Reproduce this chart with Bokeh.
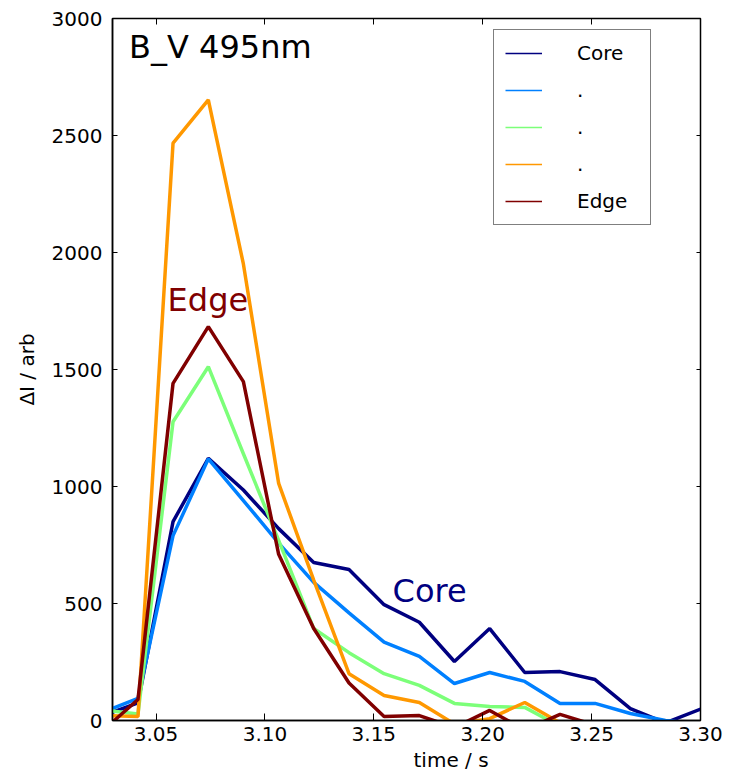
from bokeh.plotting import figure
from bokeh.models import (Range1d, LinearAxis, FixedTicker, NumeralTickFormatter,
                          Label, Legend, LegendItem, Title)
from bokeh.embed import file_html
from bokeh.resources import INLINE

# ---- data ----
times = [3.0255, 3.0417, 3.0578, 3.0740, 3.0901, 3.1063, 3.1224, 3.1386, 3.1547,
         3.1709, 3.1870, 3.2032, 3.2193, 3.2355, 3.2516, 3.2678, 3.2839, 3.3001]
core = [20, 75, 850, 1120, 985, 820, 675, 645, 495, 420, 252, 393, 205, 209, 175, 51, -10, 49]
mid1 = [35, 95, 790, 1118, 940, 758, 590, 460, 335, 274, 158, 205, 167, 73, 73, 30, 0, -15]
mid2 = [45, 28, 1277, 1512, 1140, 770, 393, 290, 200, 150, 73, 60, 56, -25, -40, -30, -50, -40]
mid3 = [22, 17, 2467, 2652, 1951, 1013, 600, 200, 107, 77, -15, 8, 77, -10, -40, -30, -50, -40]
edge = [-44, 90, 1441, 1683, 1448, 710, 393, 160, 17, 21, -30, 43, -40, 26, -20, -40, -30, -40]
series = [core, mid1, mid2, mid3, edge]
series_labels = ["Core", ".", ".", ".", "Edge"]
colors = ["#000080", "#0080ff", "#7cff79", "#ff9800", "#800000"]
x_ticks = [3.05, 3.10, 3.15, 3.20, 3.25, 3.30]
y_ticks = [0, 500, 1000, 1500, 2000, 2500, 3000]

FONT = "DejaVu Sans"

p = figure(width=738, height=775, x_range=Range1d(3.03, 3.30), y_range=Range1d(0, 3000),
           output_backend="svg", toolbar_location=None,
           min_border_left=112, min_border_right=38, min_border_top=18, min_border_bottom=55)
p.background_fill_color = "white"
p.border_fill_color = "white"
p.outline_line_color = "black"
p.outline_line_width = 1.5
p.xgrid.visible = False
p.ygrid.visible = False

# bottom axis
xa = p.xaxis[0]
xa.ticker = FixedTicker(ticks=x_ticks)
xa.formatter = NumeralTickFormatter(format="0.00")
# left axis
ya = p.yaxis[0]
ya.ticker = FixedTicker(ticks=y_ticks)
ya.axis_label = "ΔI / arb"

for ax, tin in ((xa, 7), (ya, 5)):
    ax.major_tick_in = tin
    ax.major_tick_out = 0
    ax.minor_tick_line_color = None
    ax.axis_line_color = "black"
    ax.axis_line_width = 1.5
    ax.major_tick_line_color = "black"
    ax.major_label_text_font = FONT
    ax.major_label_text_font_size = "20px"
    ax.major_label_text_color = "black"
    ax.axis_label_text_font = FONT
    ax.axis_label_text_font_size = "20px"
    ax.axis_label_text_font_style = "normal"
    ax.axis_label_text_color = "black"
xa.major_label_standoff = 6
ya.major_label_standoff = 10
ya.axis_label_standoff = 10

# mirrored tick marks on top and right (no labels drawn)
top = LinearAxis(ticker=FixedTicker(ticks=x_ticks), major_tick_in=6, major_tick_out=0,
                 minor_tick_line_color=None, major_label_text_font_size="1px",
                 major_label_text_color=None, major_label_standoff=0, axis_line_color="black")
right = LinearAxis(ticker=FixedTicker(ticks=y_ticks), major_tick_in=4, major_tick_out=0,
                   minor_tick_line_color=None, major_label_text_font_size="1px",
                   major_label_text_color=None, major_label_standoff=0, axis_line_color="black")
p.add_layout(top, "above")
p.add_layout(right, "right")

# x axis label, placed right of centre as in the reference
p.add_layout(Title(text="time / s", align="left", offset=301, standoff=4,
                   text_font=FONT, text_font_size="20px", text_font_style="normal",
                   text_color="black"), "below")

# data lines: a thin line (used as the legend sample) hidden under the thick line
items = []
for ys, c, lab in zip(series, colors, series_labels):
    thin = p.line(times, ys, line_color=c, line_width=1.5)
    p.line(times, ys, line_color=c, line_width=3.5)
    items.append(LegendItem(label=lab, renderers=[thin]))

legend = Legend(items=items, location=(381, 495), margin=0, padding=11, spacing=13,
                glyph_width=37, glyph_height=20, label_height=20, label_width=62,
                label_standoff=35, label_text_font=FONT, label_text_font_size="20px",
                label_text_color="black",
                border_line_color="black", border_line_width=1.5,
                background_fill_color="white", background_fill_alpha=1.0)
p.add_layout(legend, "center")

# annotations
p.add_layout(Label(x=3.0376, y=2880, text="B_V 495nm", text_font=FONT, text_font_size="32px",
                   text_color="black", text_baseline="alphabetic", text_align="left"))
p.add_layout(Label(x=3.0553, y=1797, text="Edge", text_font=FONT, text_font_size="32px",
                   text_color="#800000", text_baseline="alphabetic", text_align="left"))
p.add_layout(Label(x=3.1586, y=555, text="Core", text_font=FONT, text_font_size="32px",
                   text_color="#000080", text_baseline="alphabetic", text_align="left"))

open("out.html", "w").write(file_html(p, INLINE))
